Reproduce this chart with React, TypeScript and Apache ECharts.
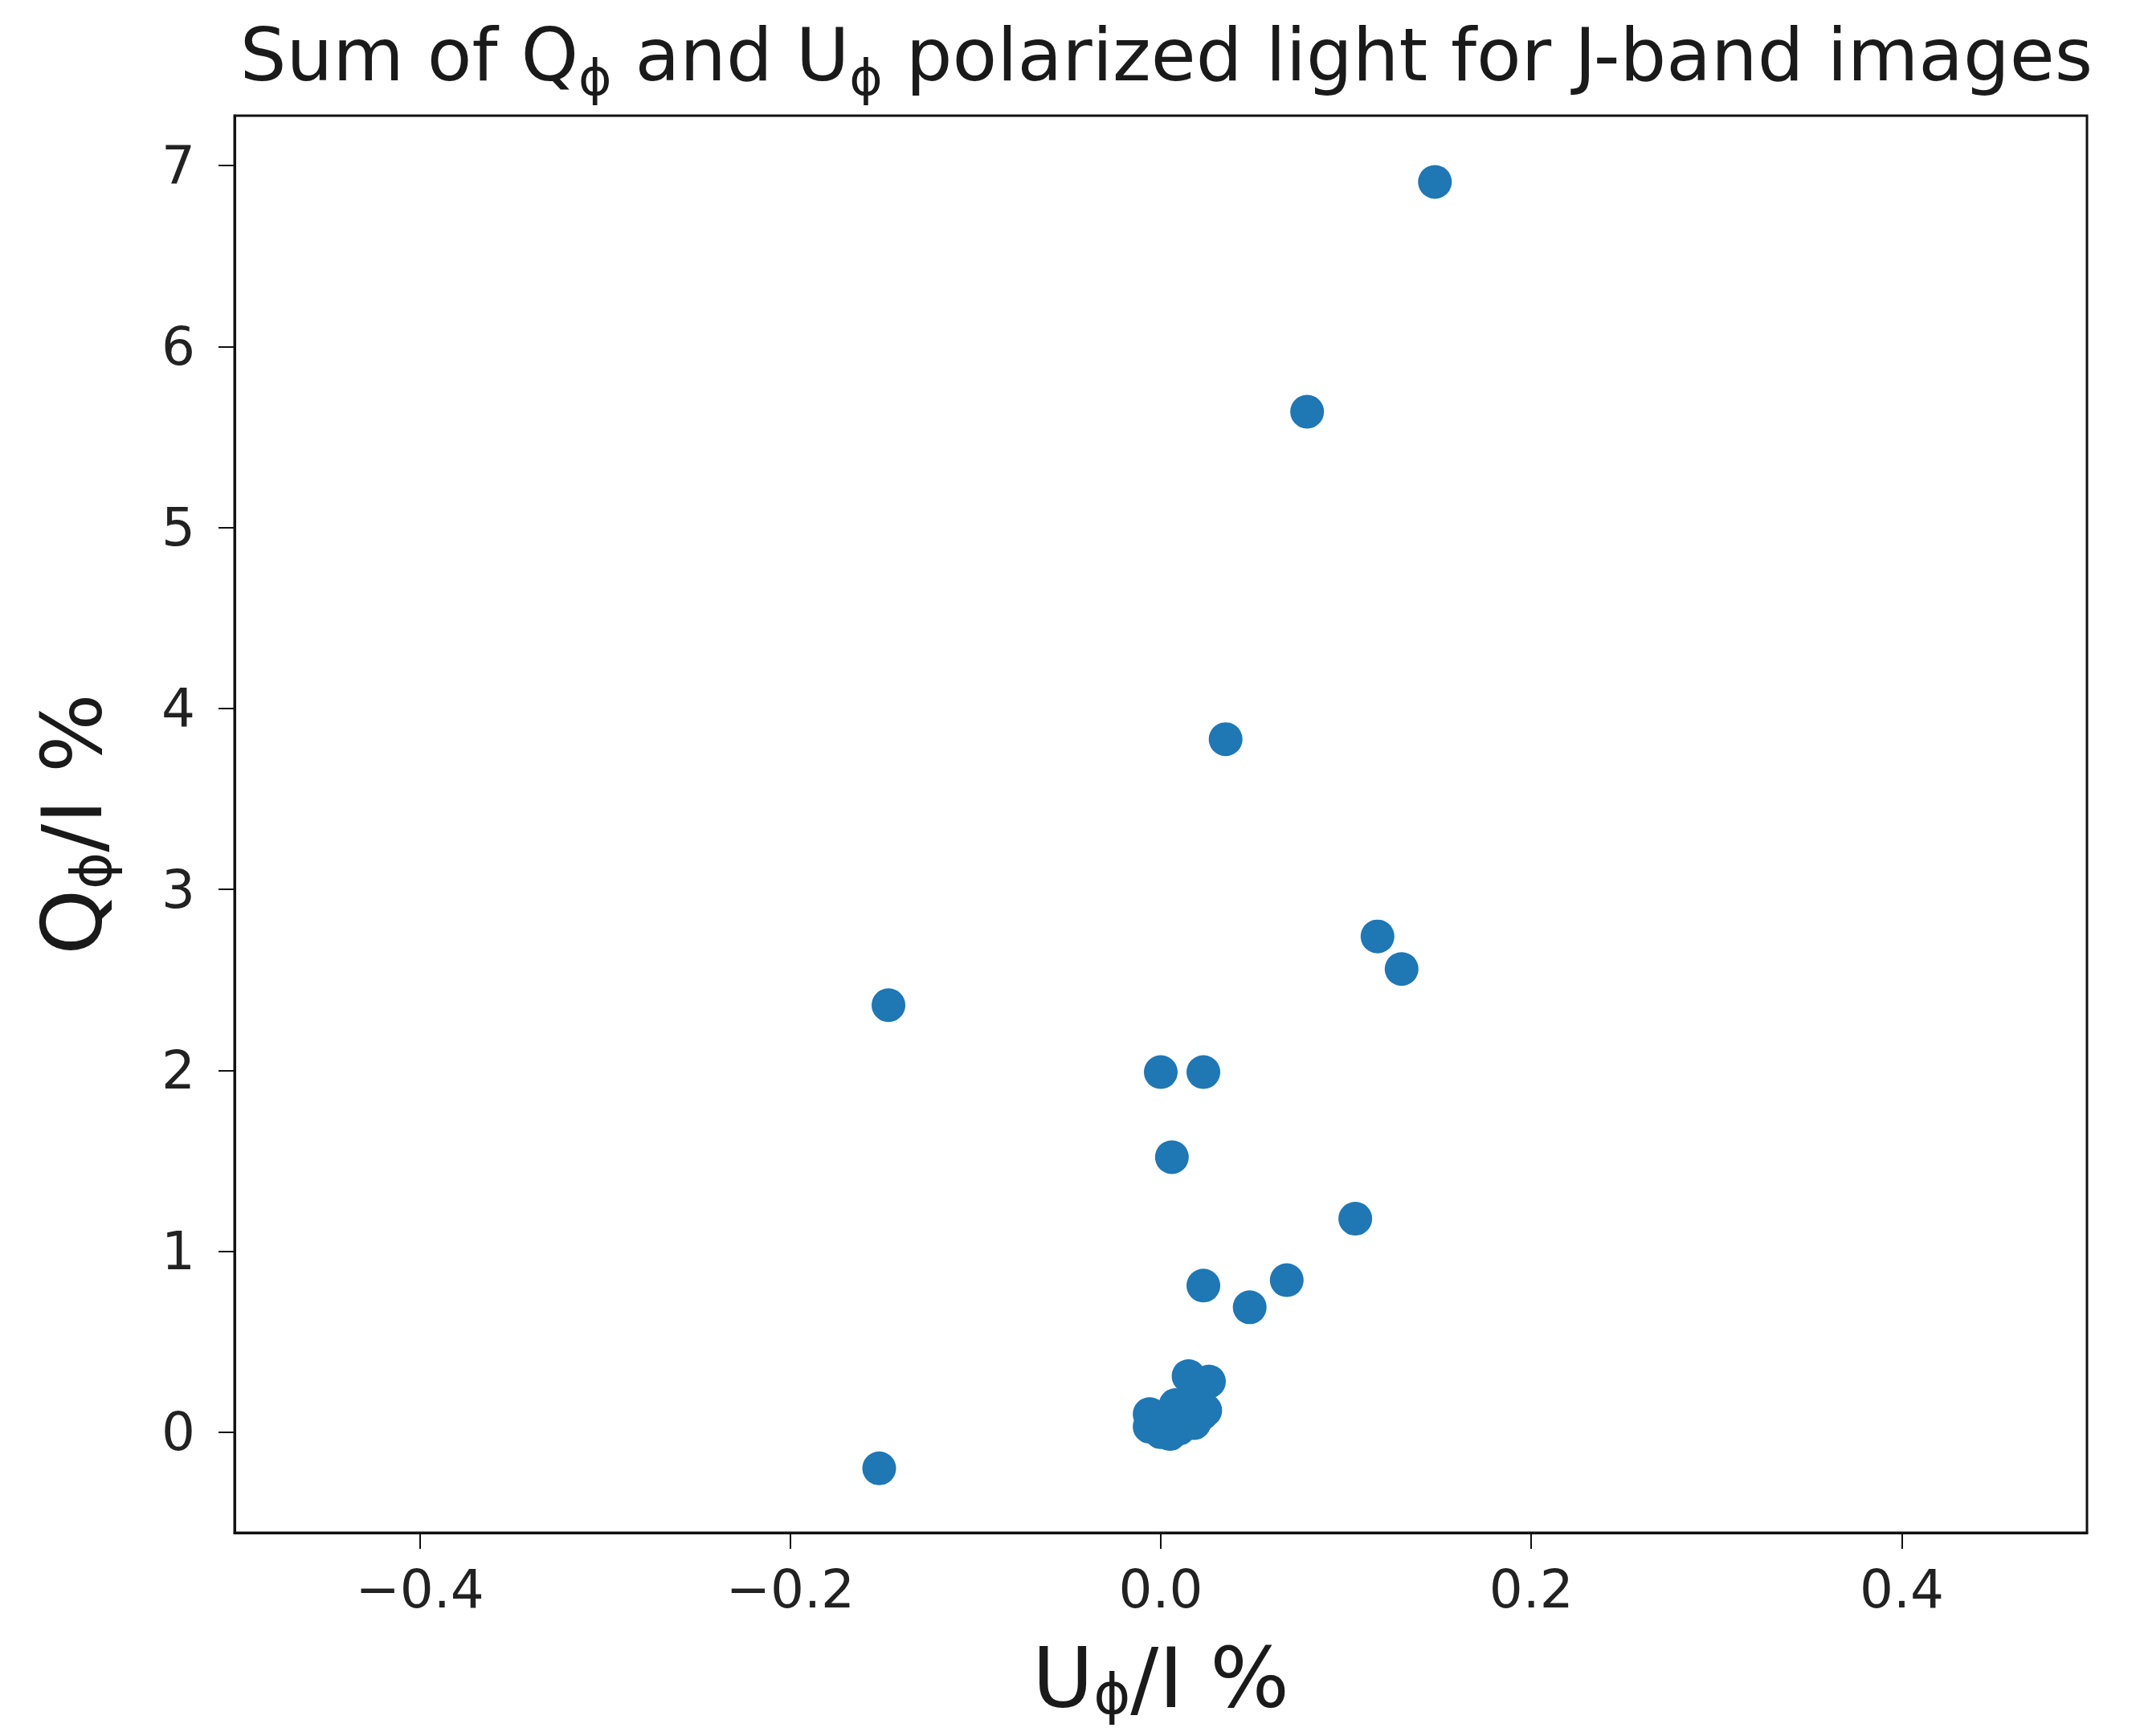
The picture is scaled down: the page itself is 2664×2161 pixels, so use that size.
import React, { useEffect, useRef } from "react";
import * as echarts from "echarts";

const uValues = [
  0.148, 0.079, 0.035, 0.117, 0.130, -0.147, 0.0, 0.023, 0.006, 0.105, 0.023, 0.068, 0.048, -0.152,
  -0.006, -0.006, 0.0, 0.005, 0.010, 0.012, 0.008, 0.015, 0.026, 0.020, 0.024, 0.022, 0.018, 0.003,
];
const qValues = [
  6.91, 5.64, 3.83, 2.74, 2.56, 2.36, 1.99, 1.99, 1.52, 1.18, 0.81, 0.84, 0.69, -0.2,
  0.10, 0.03, 0.0, -0.01, 0.02, 0.08, 0.15, 0.31, 0.28, 0.20, 0.12, 0.10, 0.05, 0.06,
];
const xTicks = [-0.4, -0.2, 0.0, 0.2, 0.4];
const yTicks = [0, 1, 2, 3, 4, 5, 6, 7];

const FONT = "DejaVu Sans";
const fmt = (v: number, d: number) => {
  const s = Math.abs(v).toFixed(d);
  return v < -1e-9 ? "\u2212" + s : s;
};

export default function App() {
  const ref = useRef<HTMLDivElement>(null);
  useEffect(() => {
    if (!ref.current) return;
    const chart = echarts.init(ref.current, null, { renderer: "svg" });
    const data = uValues.map((u, i) => [u, qValues[i]]);
    const mainRich = (size: number, subSize: number, lh: number, subPad: number) => ({
      m: { fontSize: size, lineHeight: lh, fontFamily: FONT, color: "#1a1a1a", verticalAlign: "middle" },
      s: {
        fontSize: subSize,
        lineHeight: 40,
        fontFamily: FONT,
        color: "#1a1a1a",
        padding: [subPad, 0, 0, 0],
        verticalAlign: "top",
      },
    });
    chart.setOption({
      animation: false,
      backgroundColor: "#ffffff",
      title: {
        text: "{m|Sum of Q}{s|ϕ}{m| and U}{s|ϕ}{m| polarized light for J-band images}",
        left: 1447,
        top: 8,
        textAlign: "center",
        textStyle: { fontFamily: FONT, fontSize: 91, fontWeight: "normal", rich: mainRich(91, 63, 110, 52) },
      },
      grid: {
        left: 292,
        top: 144,
        width: 2306,
        height: 1764,
        show: true,
        borderColor: "#111",
        borderWidth: 3,
        containLabel: false,
        outerBoundsMode: "none",
      },
      xAxis: {
        type: "value",
        min: -0.5,
        max: 0.5,
        name: "{m|U}{s|ϕ}{m|/I %}",
        nameLocation: "middle",
        nameGap: 116,
        nameTextStyle: { rich: mainRich(104, 70, 130, 50) },
        axisLine: { show: true, onZero: false, lineStyle: { color: "#111", width: 3 } },
        axisTick: { show: true, inside: false, length: 20, customValues: xTicks, lineStyle: { color: "#111", width: 2 } },
        axisLabel: {
          customValues: xTicks,
          margin: 37,
          fontFamily: FONT,
          fontSize: 66,
          color: "#222",
          formatter: (v: number) => fmt(v, 1),
        },
        splitLine: { show: false },
      },
      yAxis: {
        type: "value",
        min: -0.556,
        max: 7.276,
        name: "{m|Q}{s|ϕ}{m|/I %}",
        nameLocation: "middle",
        nameGap: 137,
        nameRotate: 90,
        nameTextStyle: { rich: mainRich(104, 70, 130, 54) },
        axisLine: { show: true, onZero: false, lineStyle: { color: "#111", width: 3 } },
        axisTick: { show: true, inside: false, length: 20, customValues: yTicks, lineStyle: { color: "#111", width: 2 } },
        axisLabel: {
          customValues: yTicks,
          margin: 49,
          fontFamily: FONT,
          fontSize: 66,
          color: "#222",
          formatter: (v: number) => fmt(v, 0),
        },
        splitLine: { show: false },
      },
      series: [
        {
          type: "scatter",
          data,
          symbol: "circle",
          symbolSize: 42,
          itemStyle: { color: "#1f77b4", opacity: 1 },
        },
      ],
    });
    return () => chart.dispose();
  }, []);
  return (
    <div
      ref={ref}
      style={{ position: "fixed", left: 0, top: 0, width: 2664, height: 2161, background: "#fff" }}
    />
  );
}
